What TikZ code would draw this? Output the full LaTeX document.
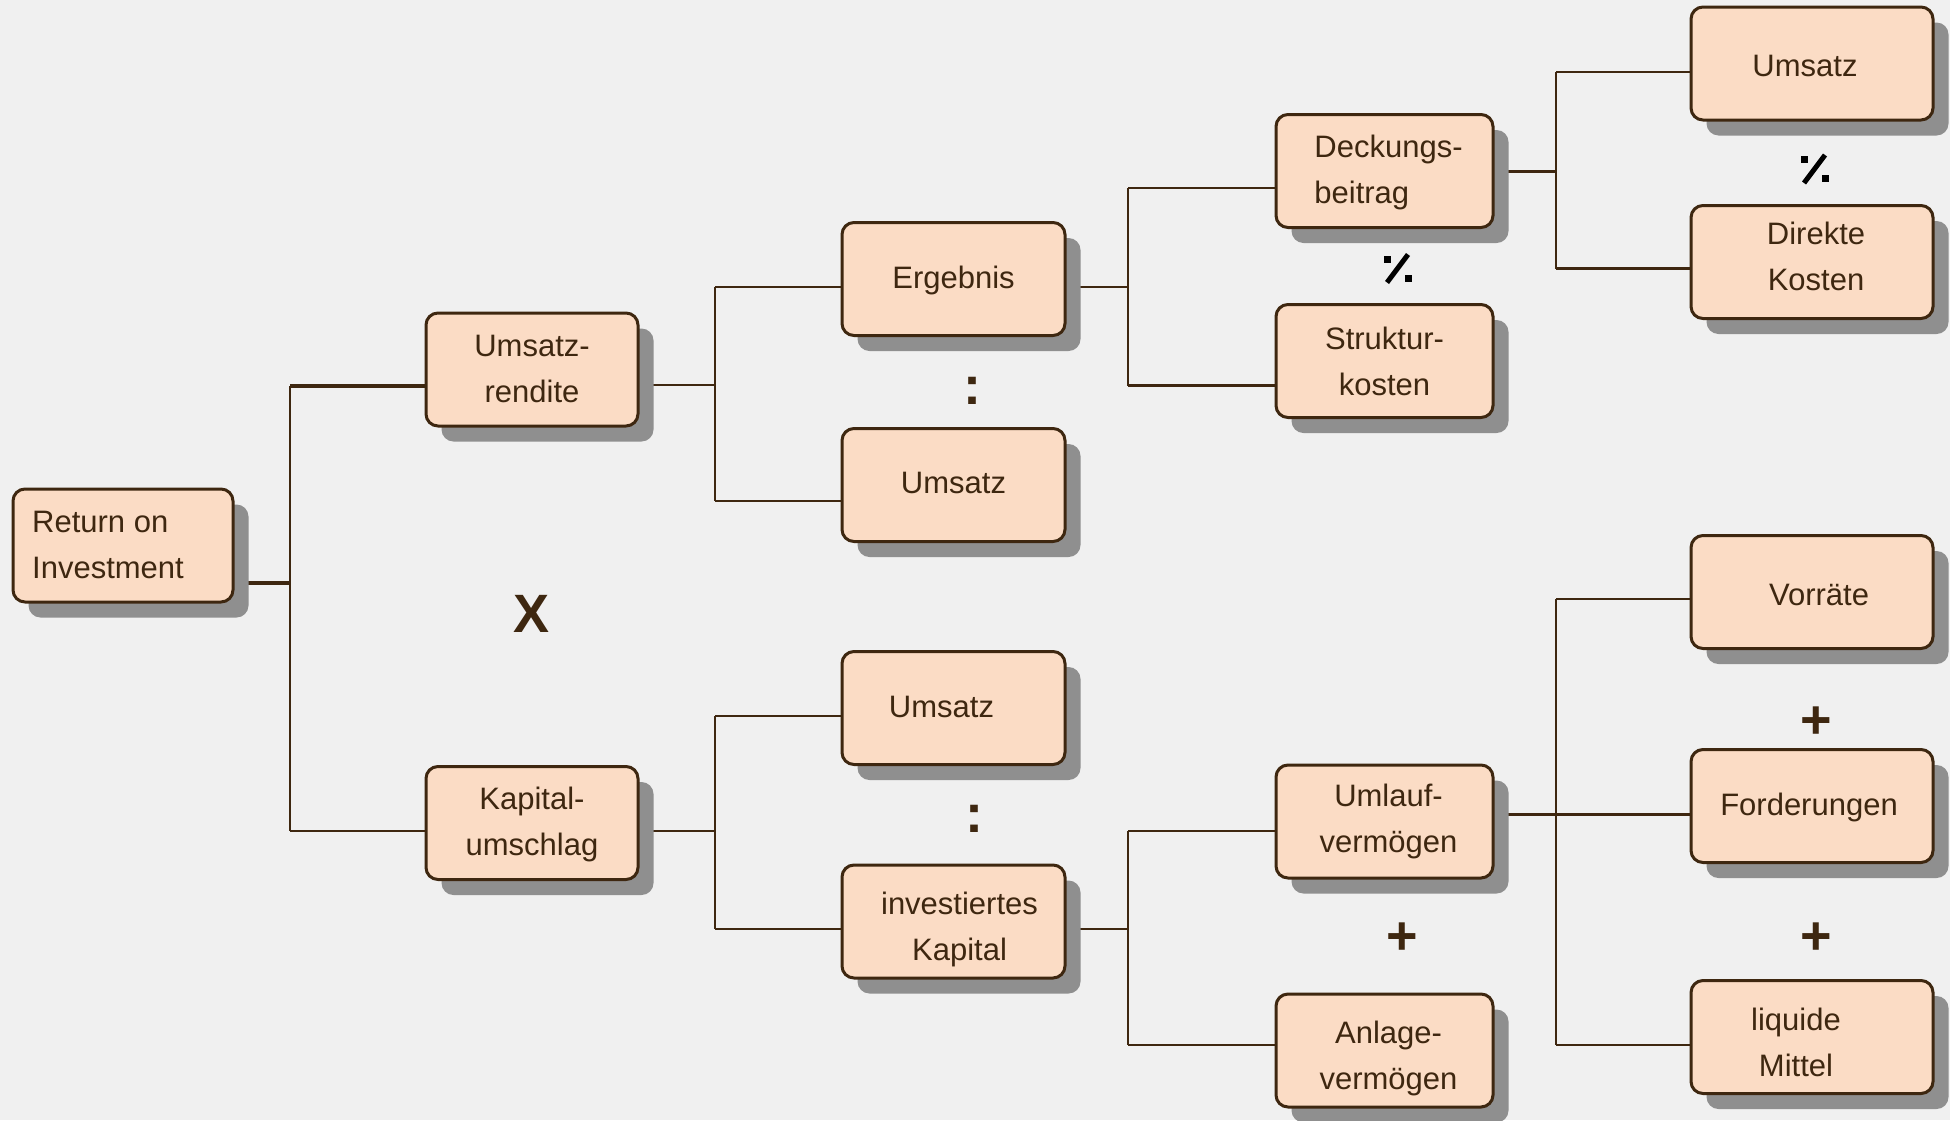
\documentclass[tikz,border=0pt]{standalone}
\usepackage{fontspec}
\setmainfont{Liberation Sans}
\usetikzlibrary{shadows}

\definecolor{pagebg}{HTML}{F0F0F0}
\definecolor{peach}{HTML}{FBDCC5}
\definecolor{ink}{HTML}{3E2710}
\definecolor{shade}{HTML}{8F8F8F}

\pgfdeclarelayer{canvas}
\pgfdeclarelayer{wires}
\pgfsetlayers{canvas,wires,main}

% box text: lines set in a tabular (c or l), centred on the node and
% nudged by #2 to the right and #3 downwards
\newsavebox\labelbox
\newcommand\boxtext[4]{%
  \sbox\labelbox{\begin{tabular}{@{}#1@{}}#4\end{tabular}}%
  \hspace*{#2}%
  \raisebox{\dimexpr(\dp\labelbox-\ht\labelbox)/2-#3\relax}[0pt][0pt]{\usebox\labelbox}%
  \hspace*{-#2}}

\tikzset{
  box/.style={draw=ink, line width=3pt, fill=peach, rounded corners=12pt,
    minimum height=113pt, inner sep=0pt, text=ink,
    font=\fontsize{31}{46}\selectfont,
    drop shadow={shadow xshift=15.5pt, shadow yshift=-15.5pt, fill=shade, opacity=1}},
  wire/.style={draw=ink, line width=2.5pt},
  heavy/.style={draw=ink, line width=4pt},
  op/.style={text=ink, font=\bfseries\fontsize{54}{54}\selectfont, inner sep=0pt},
  pics/commercial minus/.style={code={
    \fill[black] (-14,-13) rectangle (-7,-6);
    \fill[black] (7,6) rectangle (14,13);
    \draw[black, line width=5pt] (-11,14) -- (10,-14);
  }},
}

\begin{document}
\begin{tikzpicture}[x=1pt, y=-1pt]
\useasboundingbox (0,0) rectangle (1950,1120);
\begin{pgfonlayer}{canvas}
  \fill[pagebg] (0,0) rectangle (1950,1120);
\end{pgfonlayer}

% level 0
\node[box, minimum width=220pt] (roi) at (123,545.5) {\boxtext{l}{-15pt}{1pt}{Return on\\Investment}};
% level 1
\node[box, minimum width=212pt] (ur) at (532,369.5) {\boxtext{c}{0pt}{1pt}{Umsatz-\\rendite}};
\node[box, minimum width=212pt] (ku) at (532,823)   {\boxtext{c}{0pt}{0pt}{Kapital-\\umschlag}};
% level 2
\node[box, minimum width=223pt] (erg)  at (953.5,279)   {\boxtext{c}{0pt}{0pt}{Ergebnis}};
\node[box, minimum width=223pt] (ums1) at (953.5,485)   {\boxtext{c}{0pt}{-1pt}{Umsatz}};
\node[box, minimum width=223pt] (ums2) at (953.5,708)   {\boxtext{c}{-12pt}{0pt}{Umsatz}};
\node[box, minimum width=223pt] (ik)   at (953.5,921.5) {\boxtext{c}{6pt}{7pt}{investiertes\\Kapital}};
% level 3
\node[box, minimum width=217pt] (db) at (1384.5,171)    {\boxtext{l}{4pt}{0pt}{Deckungs-\\beitrag}};
\node[box, minimum width=217pt] (sk) at (1384.5,361)    {\boxtext{c}{0pt}{2pt}{Struktur-\\kosten}};
\node[box, minimum width=217pt] (uv) at (1384.5,821.5)  {\boxtext{c}{4pt}{-1pt}{Umlauf-\\vermögen}};
\node[box, minimum width=217pt] (av) at (1384.5,1050.5) {\boxtext{c}{4pt}{7pt}{Anlage-\\vermögen}};
% level 4
\node[box, minimum width=242pt] (umsr) at (1812,63.5) {\boxtext{c}{-7pt}{4pt}{Umsatz}};
\node[box, minimum width=242pt] (dk)   at (1812,262)  {\boxtext{c}{4pt}{-4pt}{Direkte\\Kosten}};
\node[box, minimum width=242pt] (vor)  at (1812,592)  {\boxtext{c}{7pt}{4pt}{Vorräte}};
\node[box, minimum width=242pt] (ford) at (1812,806)  {\boxtext{c}{-3pt}{0pt}{Forderungen}};
\node[box, minimum width=242pt] (lm)   at (1812,1037) {\boxtext{c}{-16pt}{7pt}{liquide\\Mittel}};

% operators between the branches
\node[op] (times) at (532,613.5) {X};
\node[op] (ratio1) at (972,391) {:};
\node[op] (ratio2) at (974,819) {:};
\pic (minus1) at (1398,268.5) {commercial minus};
\pic (minus2) at (1815,169) {commercial minus};
\node[op] (plus1) at (1402.5,938.5) {+};
\node[op] (plus2) at (1816,722.5) {+};
\node[op] (plus3) at (1816,938.5) {+};

% junction points of the tree
\coordinate (j1) at (290,583);   \coordinate (j1a) at (290,385.5); \coordinate (j1b) at (290,831);
\coordinate (j2) at (715,385);   \coordinate (j2a) at (715,287);   \coordinate (j2b) at (715,501);
\coordinate (j3) at (715,831);   \coordinate (j3a) at (715,716);   \coordinate (j3b) at (715,929);
\coordinate (j4) at (1128,287);  \coordinate (j4a) at (1128,188);  \coordinate (j4b) at (1128,385.5);
\coordinate (j5) at (1128,929);  \coordinate (j5a) at (1128,831);  \coordinate (j5b) at (1128,1045);
\coordinate (j6) at (1556,171.6);\coordinate (j6a) at (1556,72);   \coordinate (j6b) at (1556,268.6);
\coordinate (j7) at (1556,814.5);\coordinate (j7a) at (1556,599);  \coordinate (j7b) at (1556,1045);

\begin{pgfonlayer}{wires}
  % Return on Investment
  \draw[heavy] (roi.east |- j1) -- (j1);
  \draw[wire] (j1a) -- (j1b);
  \draw[heavy] (j1a) -- (ur.west |- j1a);
  \draw[wire] (j1b) -- (ku.west |- j1b);
  % Umsatzrendite
  \draw[wire] (ur.east |- j2) -- (j2);
  \draw[wire] (j2a) -- (j2b);
  \draw[wire] (j2a) -- (erg.west |- j2a);
  \draw[wire] (j2b) -- (ums1.west |- j2b);
  % Kapitalumschlag
  \draw[wire] (ku.east |- j3) -- (j3);
  \draw[wire] (j3a) -- (j3b);
  \draw[wire] (j3a) -- (ums2.west |- j3a);
  \draw[wire] (j3b) -- (ik.west |- j3b);
  % Ergebnis
  \draw[wire] (erg.east |- j4) -- (j4);
  \draw[wire] (j4a) -- (j4b);
  \draw[wire] (j4a) -- (db.west |- j4a);
  \draw[wire] (j4b) -- (sk.west |- j4b);
  % investiertes Kapital
  \draw[wire] (ik.east |- j5) -- (j5);
  \draw[wire] (j5a) -- (j5b);
  \draw[wire] (j5a) -- (uv.west |- j5a);
  \draw[wire] (j5b) -- (av.west |- j5b);
  % Deckungsbeitrag
  \draw[wire] (db.east |- j6) -- (j6);
  \draw[wire] (j6a) -- (j6b);
  \draw[wire] (j6a) -- (umsr.west |- j6a);
  \draw[wire] (j6b) -- (dk.west |- j6b);
  % Umlaufvermoegen
  \draw[wire] (uv.east |- j7) -- (j7);
  \draw[wire] (j7a) -- (j7b);
  \draw[wire] (j7a) -- (vor.west |- j7a);
  \draw[wire] (j7) -- (ford.west |- j7);
  \draw[wire] (j7b) -- (lm.west |- j7b);
\end{pgfonlayer}
\end{tikzpicture}
\end{document}
